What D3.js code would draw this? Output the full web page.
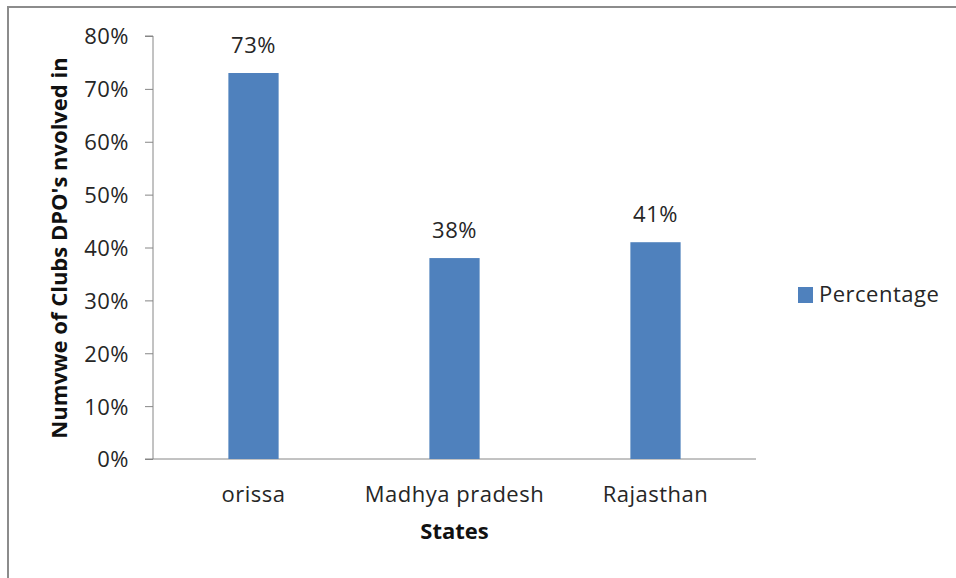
<!DOCTYPE html>
<html>
<head>
<meta charset="utf-8">
<script src="https://cdn.jsdelivr.net/npm/d3@7"></script>
<style>
  html, body { margin: 0; padding: 0; background: #fff; }
  svg { display: block; }
  text { font-family: "Open Sans", Lato, sans-serif; }
</style>
</head>
<body>
<script>
const categories = ["orissa", "Madhya pradesh", "Rajasthan"];
const values = [0.73, 0.38, 0.41];
const yTicks = [0, 0.1, 0.2, 0.3, 0.4, 0.5, 0.6, 0.7, 0.8];
const seriesName = "Percentage";
const xTitle = "States";
const yTitle = "Numvwe of Clubs DPO's nvolved in";

(function () {
const W = 956, H = 578;
const FS = 22, LS = "0.5px";
const svg = d3.select("body").append("svg").attr("width", W).attr("height", H);

// outer border (top & left visible)
svg.append("path").attr("d", `M8,${H} L8,7 L${W},7`)
  .attr("fill", "none").attr("stroke", "#8c8c8c").attr("stroke-width", 2);

const pL = 153, pR = 756, pT = 36, pB = 459;
const x = d3.scaleBand().domain(categories).range([pL, pR]).paddingInner(0.75).paddingOuter(0.375);
const y = d3.scaleLinear().domain([0, 0.8]).range([pB, pT]);

const textColor = "#262626";

// y axis
const yAxis = svg.append("g").attr("transform", `translate(${pL},0)`)
  .call(d3.axisLeft(y).tickValues(yTicks).tickFormat(d3.format(".0%")).tickSize(8).tickPadding(16));
yAxis.select(".domain").attr("stroke", "#868686").attr("d", `M-8,${pT}H0V${pB}`);
yAxis.selectAll(".tick line").attr("stroke", "#868686");
yAxis.selectAll(".tick text").attr("font-size", FS).attr("fill", textColor)
  .attr("font-family", "'Open Sans', sans-serif").attr("dy", "0.36em").attr("letter-spacing", LS);

// x axis line
svg.append("line").attr("x1", pL - 8).attr("x2", pR).attr("y1", pB).attr("y2", pB)
  .attr("stroke", "#868686");

// bars
svg.selectAll("rect.bar").data(values).join("rect").attr("class", "bar")
  .attr("x", (d, i) => x(categories[i]))
  .attr("y", d => y(d))
  .attr("width", x.bandwidth())
  .attr("height", d => pB - y(d))
  .attr("fill", "#4f81bd");

// data labels
svg.selectAll("text.dl").data(values).join("text").attr("class", "dl")
  .attr("x", (d, i) => x(categories[i]) + x.bandwidth() / 2)
  .attr("y", d => y(d) - 20)
  .attr("text-anchor", "middle").attr("font-size", FS).attr("fill", textColor).attr("letter-spacing", LS)
  .text(d => d3.format(".0%")(d));

// x category labels
svg.selectAll("text.xl").data(categories).join("text").attr("class", "xl")
  .attr("x", d => x(d) + x.bandwidth() / 2)
  .attr("y", 502)
  .attr("text-anchor", "middle").attr("font-size", FS).attr("fill", textColor).attr("letter-spacing", LS)
  .text(d => d);

// axis titles
svg.append("text").attr("x", (pL + pR) / 2).attr("y", 539)
  .attr("text-anchor", "middle").attr("font-size", FS).attr("font-weight", "bold").attr("fill", "#111")
  .text(xTitle);
svg.append("text").attr("transform", `translate(67,248) rotate(-90)`)
  .attr("text-anchor", "middle").attr("font-size", FS).attr("font-weight", "bold").attr("fill", "#111")
  .text(yTitle);

// legend
svg.append("rect").attr("x", 798).attr("y", 287).attr("width", 15).attr("height", 16).attr("fill", "#4f81bd");
svg.append("text").attr("x", 819).attr("y", 302).attr("font-size", FS).attr("fill", textColor).attr("letter-spacing", LS).text(seriesName);
})();
</script>
</body>
</html>
